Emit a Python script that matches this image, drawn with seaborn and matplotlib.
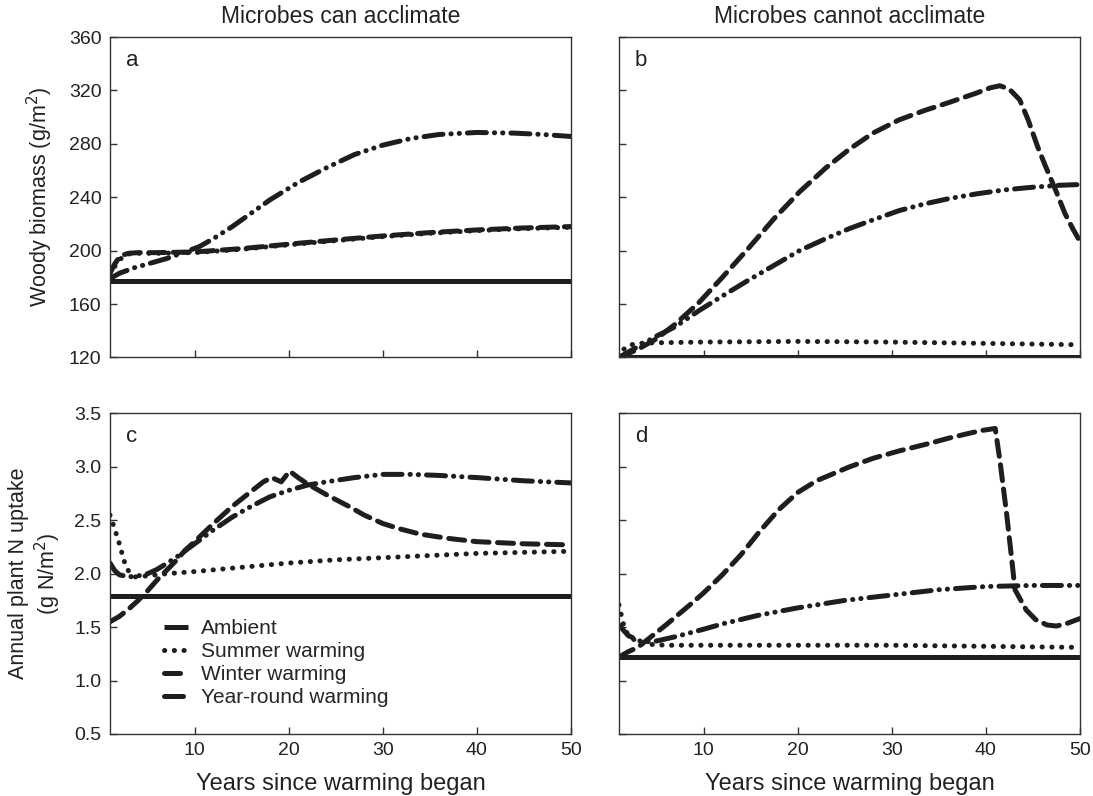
import seaborn as sns
import numpy as np
import matplotlib.pyplot as plt

# ---- panel a: woody biomass, microbes can acclimate
a_amb_x = [1, 50]
a_amb_y = [177, 177]
a_sum_x = [1, 1.5, 2, 2.5, 3, 4, 6, 10, 15, 21, 25, 30, 35, 40, 45, 50]
a_sum_y = [182, 188, 193, 196, 197.5, 198, 198, 198.5, 201, 205, 207.5, 210.5, 213, 215, 216.5, 217.5]
a_win_x = [1, 1.5, 2, 2.5, 3, 4, 6, 10, 15, 21, 25, 30, 35, 40, 45, 50]
a_win_y = [183, 190, 195, 197, 198, 198.5, 198.5, 199, 201.5, 205.5, 208, 211, 213.5, 215.5, 217, 218]
a_yr_x = [1, 2, 3.5, 5, 7, 9, 10.5, 12, 14, 16, 18, 21, 24, 27, 30, 33, 36, 40, 44, 47, 50]
a_yr_y = [179, 183, 187, 190, 194, 199, 203, 209, 218, 228, 238, 251, 262, 272, 279, 284, 287, 288.5, 288, 287, 285.5]

# ---- panel b: woody biomass, microbes cannot acclimate
b_amb_x = [1, 50]
b_amb_y = [120, 120]
b_sum_x = [1, 1.5, 2, 3, 5, 10, 20, 30, 40, 50]
b_sum_y = [120, 126, 129, 130.5, 131, 131.5, 132, 131.5, 130.5, 129.5]
b_win_x = [1, 3, 5, 7, 9.5, 12, 14.8, 17.5, 20.2, 23, 25.5, 28, 30.8, 33.5, 36.1, 39, 40.5, 41.5,
           42.5, 43.6, 44.5, 45.5, 46.3, 47.5, 48.4, 49.2, 50]
b_win_y = [120, 126, 134, 145, 161, 180, 202, 224, 244, 262, 276, 288, 298, 305, 311, 318, 322, 323.5,
           321, 313, 298, 278, 264, 244, 228, 217, 207]
b_yr_x = [1, 3, 5, 7, 9.5, 12, 14.8, 17.5, 20.2, 23, 25.5, 28, 30.8, 33.5, 36.1, 39, 42, 45, 48, 50]
b_yr_y = [120, 128, 136, 143, 155, 166, 178, 189, 200, 209, 216.5, 223, 230, 235, 239, 242.5, 245.5, 247.5, 249, 249.5]

# ---- panel c: plant N uptake, microbes can acclimate
c_amb_x = [1, 50]
c_amb_y = [1.79, 1.79]
c_sum_x = [1, 1.5, 2, 2.5, 3, 3.7, 5, 7, 10, 15, 20, 25, 30, 35, 40, 45, 50]
c_sum_y = [2.55, 2.42, 2.28, 2.12, 2.02, 1.97, 1.98, 2.0, 2.02, 2.06, 2.1, 2.13, 2.15, 2.17, 2.19, 2.2, 2.21]
c_win_x = [1, 2, 3, 4, 5, 6, 7, 8, 9, 10, 12, 14, 16, 17.3, 18.2, 19.2, 20.1, 21, 22, 24, 26.4, 28,
           30, 31.8, 34, 37, 40, 45, 50]
c_win_y = [1.55, 1.6, 1.67, 1.75, 1.84, 1.94, 2.03, 2.12, 2.22, 2.3, 2.47, 2.63, 2.77, 2.86, 2.9, 2.86, 2.96,
           2.9, 2.84, 2.74, 2.63, 2.55, 2.47, 2.42, 2.37, 2.33, 2.3, 2.28, 2.27]
c_yr_x = [1, 1.5, 2, 3, 4, 5, 6, 8, 10, 12, 14, 16, 18, 20, 22, 24, 27, 30, 33, 36, 40, 45, 50]
c_yr_y = [2.1, 2.03, 1.99, 1.97, 1.98, 2.0, 2.04, 2.15, 2.28, 2.41, 2.53, 2.63, 2.72, 2.78, 2.83, 2.86,
          2.9, 2.93, 2.93, 2.92, 2.9, 2.87, 2.85]

# ---- panel d: plant N uptake, microbes cannot acclimate
d_amb_x = [1, 50]
d_amb_y = [1.22, 1.22]
d_sum_x = [1, 1.5, 2, 3, 4, 6, 10, 20, 30, 40, 50]
d_sum_y = [1.71, 1.52, 1.42, 1.36, 1.34, 1.33, 1.33, 1.33, 1.33, 1.32, 1.31]
d_win_x = [1, 2, 3, 4, 6, 8.7, 10, 12, 14, 16, 18, 20, 22, 25.5, 28, 30.8, 34, 36.1, 38, 39.5, 41,
           41.5, 42.2, 42.8, 43.1, 44.3, 45.3, 46.5, 47.5, 48.5, 50]
d_win_y = [1.22, 1.27, 1.31, 1.38, 1.52, 1.72, 1.82, 1.99, 2.18, 2.4, 2.6, 2.76, 2.87, 3.0, 3.08, 3.15,
           3.22, 3.27, 3.31, 3.34, 3.36, 3.06, 2.57, 2.1, 1.85, 1.66, 1.57, 1.52, 1.51, 1.53, 1.58]
d_yr_x = [1, 2, 3.5, 5, 7, 10, 12, 15.8, 20, 25, 30, 35, 40, 45, 50]
d_yr_y = [1.52, 1.42, 1.36, 1.37, 1.41, 1.48, 1.53, 1.61, 1.68, 1.75, 1.8, 1.85, 1.88, 1.89, 1.89]

labels = ["Ambient", "Summer warming", "Winter warming", "Year-round warming"]
col_titles = ["Microbes can acclimate", "Microbes cannot acclimate"]
panel_letters = ["a", "b", "c", "d"]

sns.set_style("ticks")
plt.rcParams['font.family'] = ['Liberation Sans', 'DejaVu Sans']
plt.rcParams['xtick.direction'] = 'in'
plt.rcParams['ytick.direction'] = 'in'

ink = "#1e1e1e"
txt = "#222222"
lw = 3.6
styles = ["-", (0, (0.05, 1.9)), (0, (3.2, 1.7)), (0, (3.8, 1.6, 0.05, 1.6, 0.05, 1.6))]

panels = [
    [(a_amb_x, a_amb_y), (a_sum_x, a_sum_y), (a_win_x, a_win_y), (a_yr_x, a_yr_y)],
    [(b_amb_x, b_amb_y), (b_sum_x, b_sum_y), (b_win_x, b_win_y), (b_yr_x, b_yr_y)],
    [(c_amb_x, c_amb_y), (c_sum_x, c_sum_y), (c_win_x, c_win_y), (c_yr_x, c_yr_y)],
    [(d_amb_x, d_amb_y), (d_sum_x, d_sum_y), (d_win_x, d_win_y), (d_yr_x, d_yr_y)],
]

fig, axes = plt.subplots(2, 2, figsize=(10.93, 7.96), dpi=100)
fig.subplots_adjust(left=0.1006, right=0.988, top=0.9535, bottom=0.078, wspace=0.104, hspace=0.175)

for i, ax in enumerate(axes.flat):
    for k, (xs, ys) in enumerate(panels[i]):
        sns.lineplot(x=xs, y=ys, ax=ax, color=ink, linewidth=lw, linestyle=styles[k],
                     label=labels[k], sort=False, legend=False)
        ln = ax.lines[-1]
        ln.set_dash_capstyle("round")
        ln.set_solid_capstyle("butt")
    ax.set_xlim(1, 50)
    ax.set_xticks([10, 20, 30, 40, 50])
    for s in ax.spines.values():
        s.set_visible(True)
        s.set_linewidth(1.0)
        s.set_color("#333333")
    ax.tick_params(length=5, width=1.0, color="#333333", labelsize=14, labelcolor=txt, pad=6)
    ax.text(0.035, 0.96, panel_letters[i], transform=ax.transAxes, fontsize=16, va="top", ha="left",
            color=txt)
    if i < 2:
        ax.set_ylim(120, 360)
        ax.set_yticks([120, 160, 200, 240, 280, 320, 360])
        ax.tick_params(labelbottom=False)
        ax.set_title(col_titles[i], fontsize=16.5, pad=10, color=txt)
    else:
        ax.set_ylim(0.5, 3.5)
        ax.set_yticks([0.5, 1.0, 1.5, 2.0, 2.5, 3.0, 3.5])
        ax.set_yticklabels(["0.5", "1.0", "1.5", "2.0", "2.5", "3.0", "3.5"])
        ax.set_xlabel("Years since warming began", fontsize=17, labelpad=10, color=txt)
    if i % 2 == 1:
        ax.tick_params(labelleft=False)
    ax.set_ylabel("")

axes[0, 0].set_ylabel("Woody biomass (g/m$^2$)", fontsize=15.5, labelpad=10, color=txt)
axes[1, 0].set_ylabel("Annual plant N uptake\n(g N/m$^2$)", fontsize=15.5, labelpad=8, color=txt)

handles = axes[1, 0].lines[:4]
leg = axes[1, 0].legend(handles, labels, loc="upper left", bbox_to_anchor=(0.1, 0.385), frameon=False,
                        fontsize=15, handlelength=1.15, handletextpad=0.6, labelspacing=0.2, borderaxespad=0)
for hl in leg.get_lines():
    hl.set_dash_capstyle("round")

fig.savefig("out.png", dpi=100)
